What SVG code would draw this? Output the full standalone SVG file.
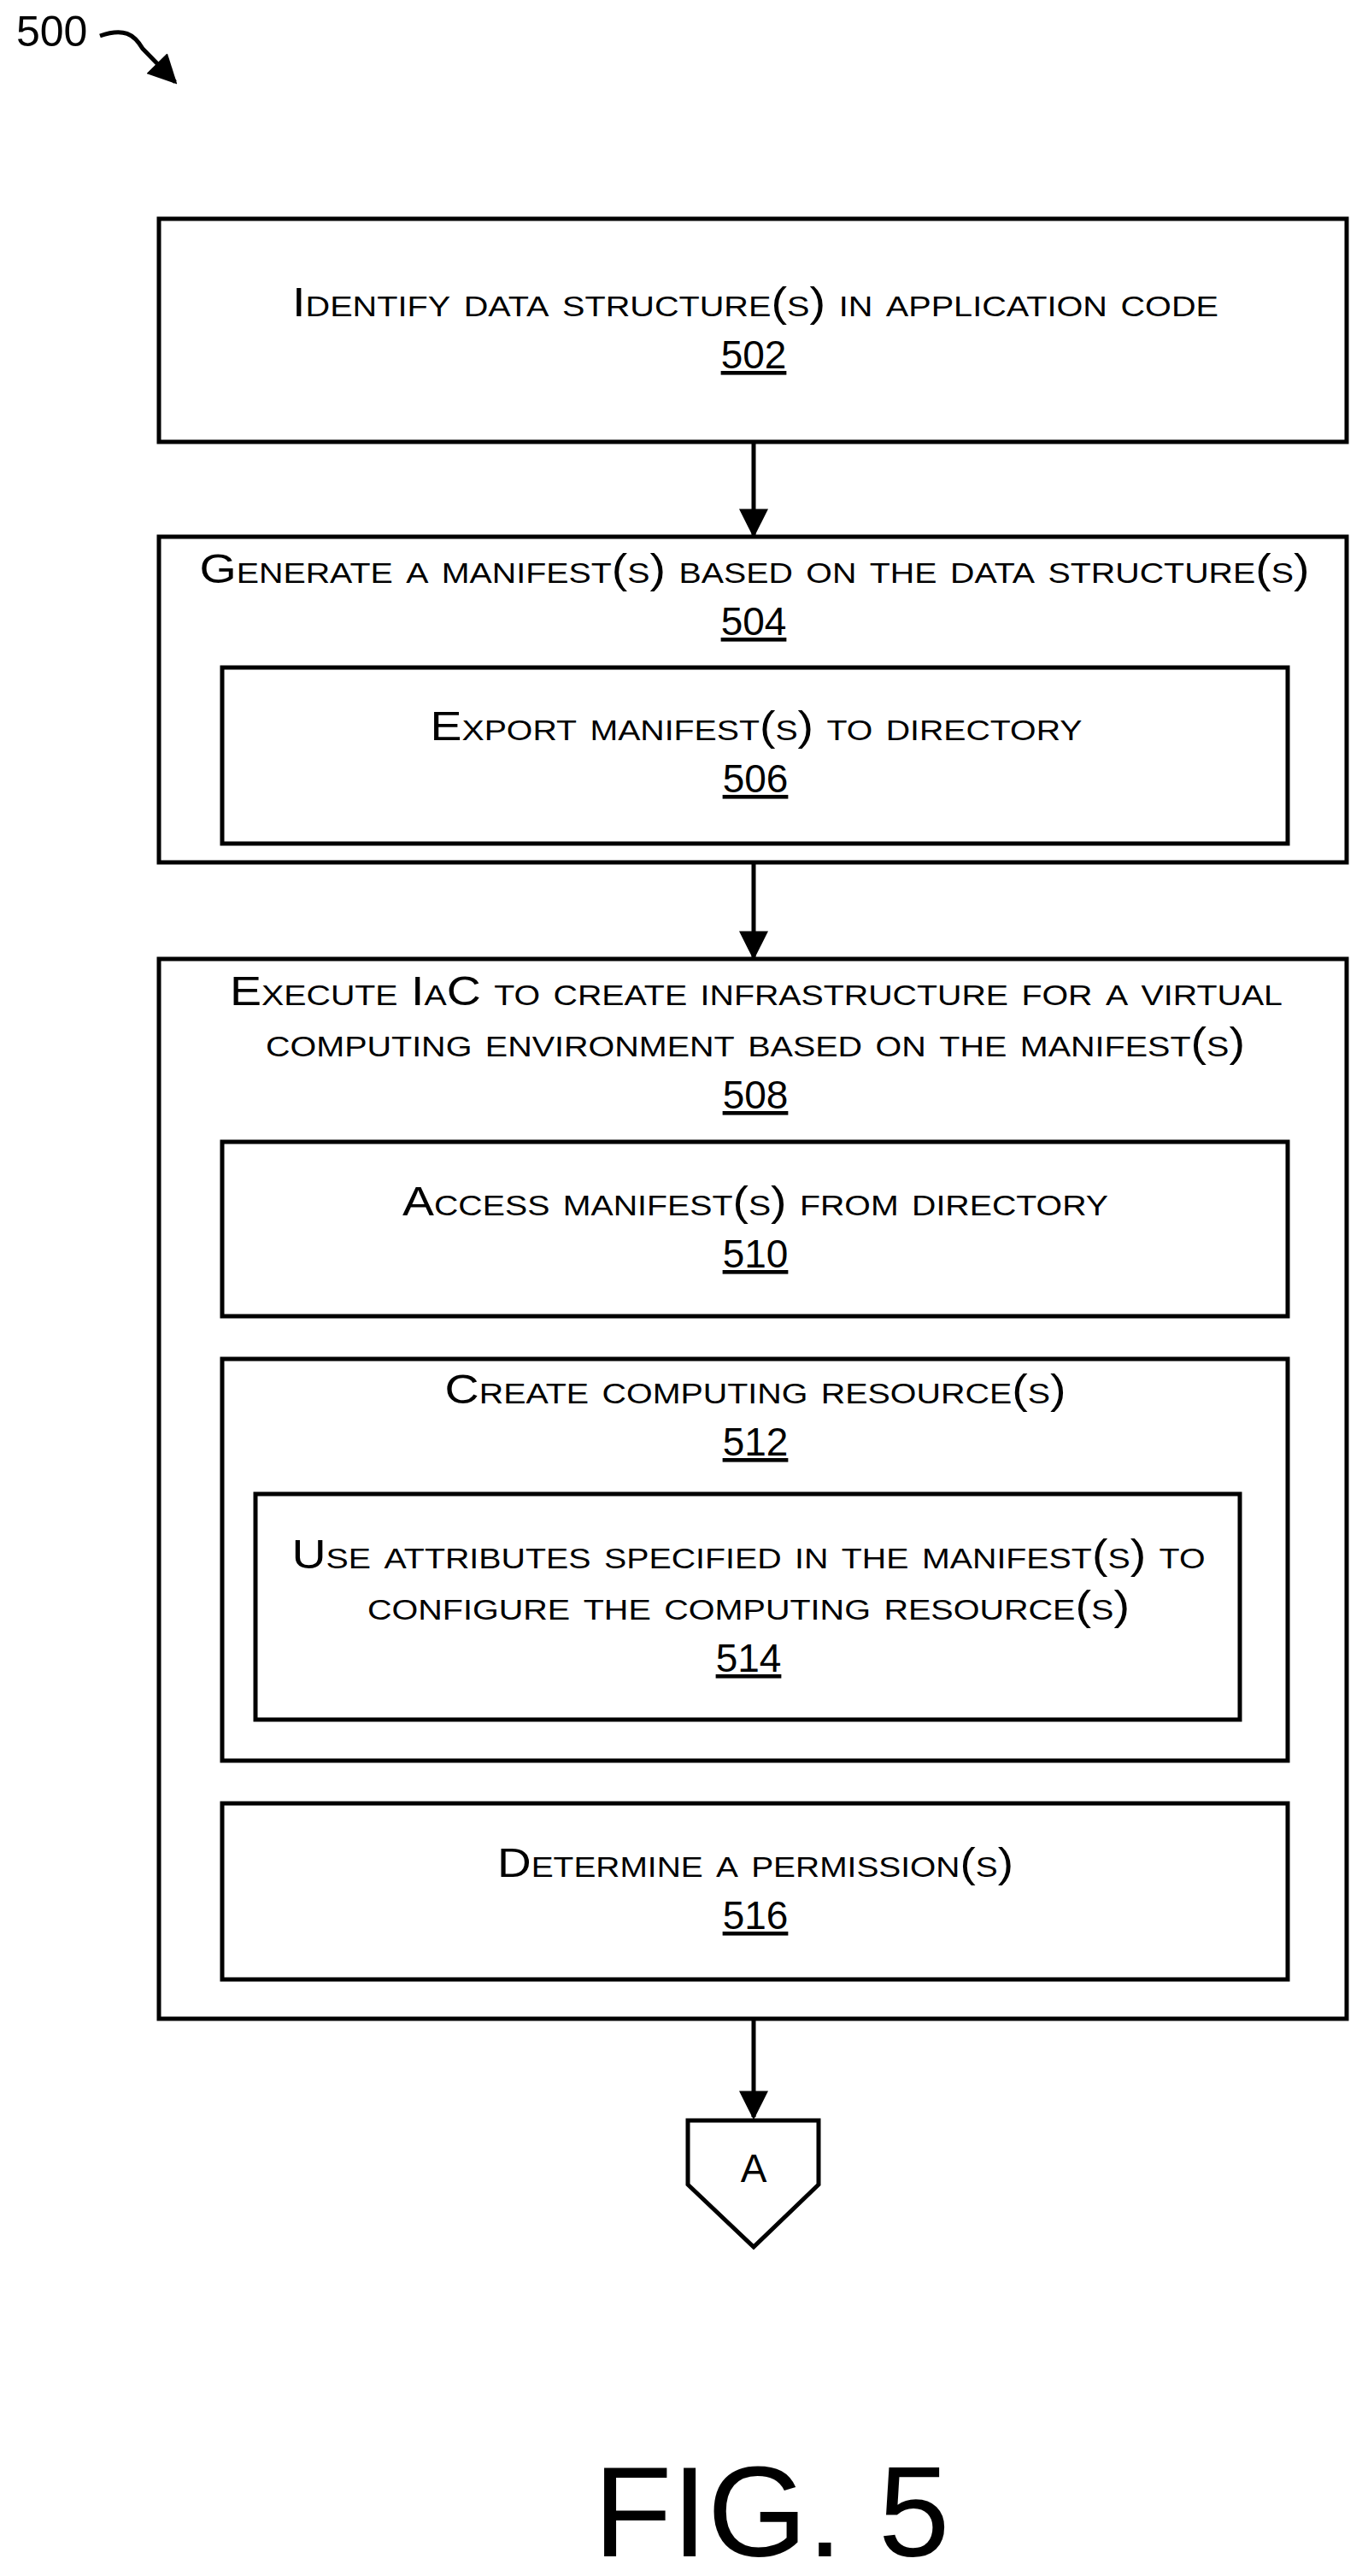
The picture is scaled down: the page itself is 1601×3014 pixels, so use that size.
<svg xmlns="http://www.w3.org/2000/svg" width="1601" height="3014" viewBox="0 0 1601 3014">
<style>
.b{fill:none;stroke:#000;stroke-width:5}
.t{font-family:"Liberation Sans",Arial,sans-serif;font-size:48px;font-variant:small-caps;text-anchor:middle;fill:#000}
.n{font-family:"Liberation Sans",Arial,sans-serif;font-size:46px;text-anchor:middle;text-decoration:underline;fill:#000}
.c{stroke:#000;stroke-width:5;fill:none}
</style>
<defs>
<marker id="ah2" viewBox="0 0 10 10" refX="9" refY="5" markerWidth="34" markerHeight="34" markerUnits="userSpaceOnUse" orient="auto"><path d="M0,0L10,5L0,10z" fill="#000"/></marker></defs>
<text x="19" y="54" font-family="Liberation Sans,Arial,sans-serif" font-size="50">500</text>
<g id="connectors">
<path class="c" d="M117,42 C145,32 157,40 167,57 L205,96" marker-end="url(#ah2)"/>
<path class="c" d="M882,519 L882,626" marker-end="url(#ah2)"/>
<path class="c" d="M882,1011 L882,1120" marker-end="url(#ah2)"/>
<path class="c" d="M882,2364 L882,2477" marker-end="url(#ah2)"/>
</g>
<g id="n502"><rect class="b" x="186" y="256" width="1390" height="261"/>
<text class="t" x="884" y="370" textLength="1084" lengthAdjust="spacingAndGlyphs">Identify data structure(s) in application code</text><text class="n" x="882" y="431">502</text></g>
<g id="n504"><rect class="b" x="186" y="628" width="1390" height="381"/>
<text class="t" x="883" y="682" textLength="1299" lengthAdjust="spacingAndGlyphs">Generate a manifest(s) based on the data structure(s)</text><text class="n" x="882" y="743">504</text></g>
<g id="n506"><rect class="b" x="260" y="781" width="1247" height="206"/>
<text class="t" x="885" y="866" textLength="763" lengthAdjust="spacingAndGlyphs">Export manifest(s) to directory</text><text class="n" x="884" y="927">506</text></g>
<g id="n508"><rect class="b" x="186" y="1122" width="1390" height="1240"/>
<text class="t" x="885" y="1176" textLength="1232" lengthAdjust="spacingAndGlyphs">Execute IaC to create infrastructure for a virtual</text>
<text class="t" x="884" y="1236" textLength="1146" lengthAdjust="spacingAndGlyphs">computing environment based on the manifest(s)</text><text class="n" x="884" y="1297">508</text></g>
<g id="n510"><rect class="b" x="260" y="1336" width="1247" height="204"/>
<text class="t" x="884" y="1422" textLength="826" lengthAdjust="spacingAndGlyphs">Access manifest(s) from directory</text><text class="n" x="884" y="1483">510</text></g>
<g id="n512"><rect class="b" x="260" y="1590" width="1247" height="470"/>
<text class="t" x="884" y="1642" textLength="727" lengthAdjust="spacingAndGlyphs">Create computing resource(s)</text><text class="n" x="884" y="1703">512</text></g>
<g id="n514"><rect class="b" x="299" y="1748" width="1152" height="264"/>
<text class="t" x="876" y="1835" textLength="1069" lengthAdjust="spacingAndGlyphs">Use attributes specified in the manifest(s) to</text>
<text class="t" x="876" y="1895" textLength="892" lengthAdjust="spacingAndGlyphs">configure the computing resource(s)</text><text class="n" x="876" y="1956">514</text></g>
<g id="n516"><rect class="b" x="260" y="2110" width="1247" height="206"/>
<text class="t" x="884" y="2196" textLength="604" lengthAdjust="spacingAndGlyphs">Determine a permission(s)</text><text class="n" x="884" y="2257">516</text></g>
<g id="nA"><path class="b" d="M805,2481 L958,2481 L958,2556 L882,2629 L805,2556 Z"/>
<text x="882" y="2553" font-family="Liberation Sans,Arial,sans-serif" font-size="46" text-anchor="middle">A</text></g>
<text x="903" y="2991" font-family="Liberation Sans,Arial,sans-serif" font-size="150" text-anchor="middle">FIG. 5</text>
</svg>
